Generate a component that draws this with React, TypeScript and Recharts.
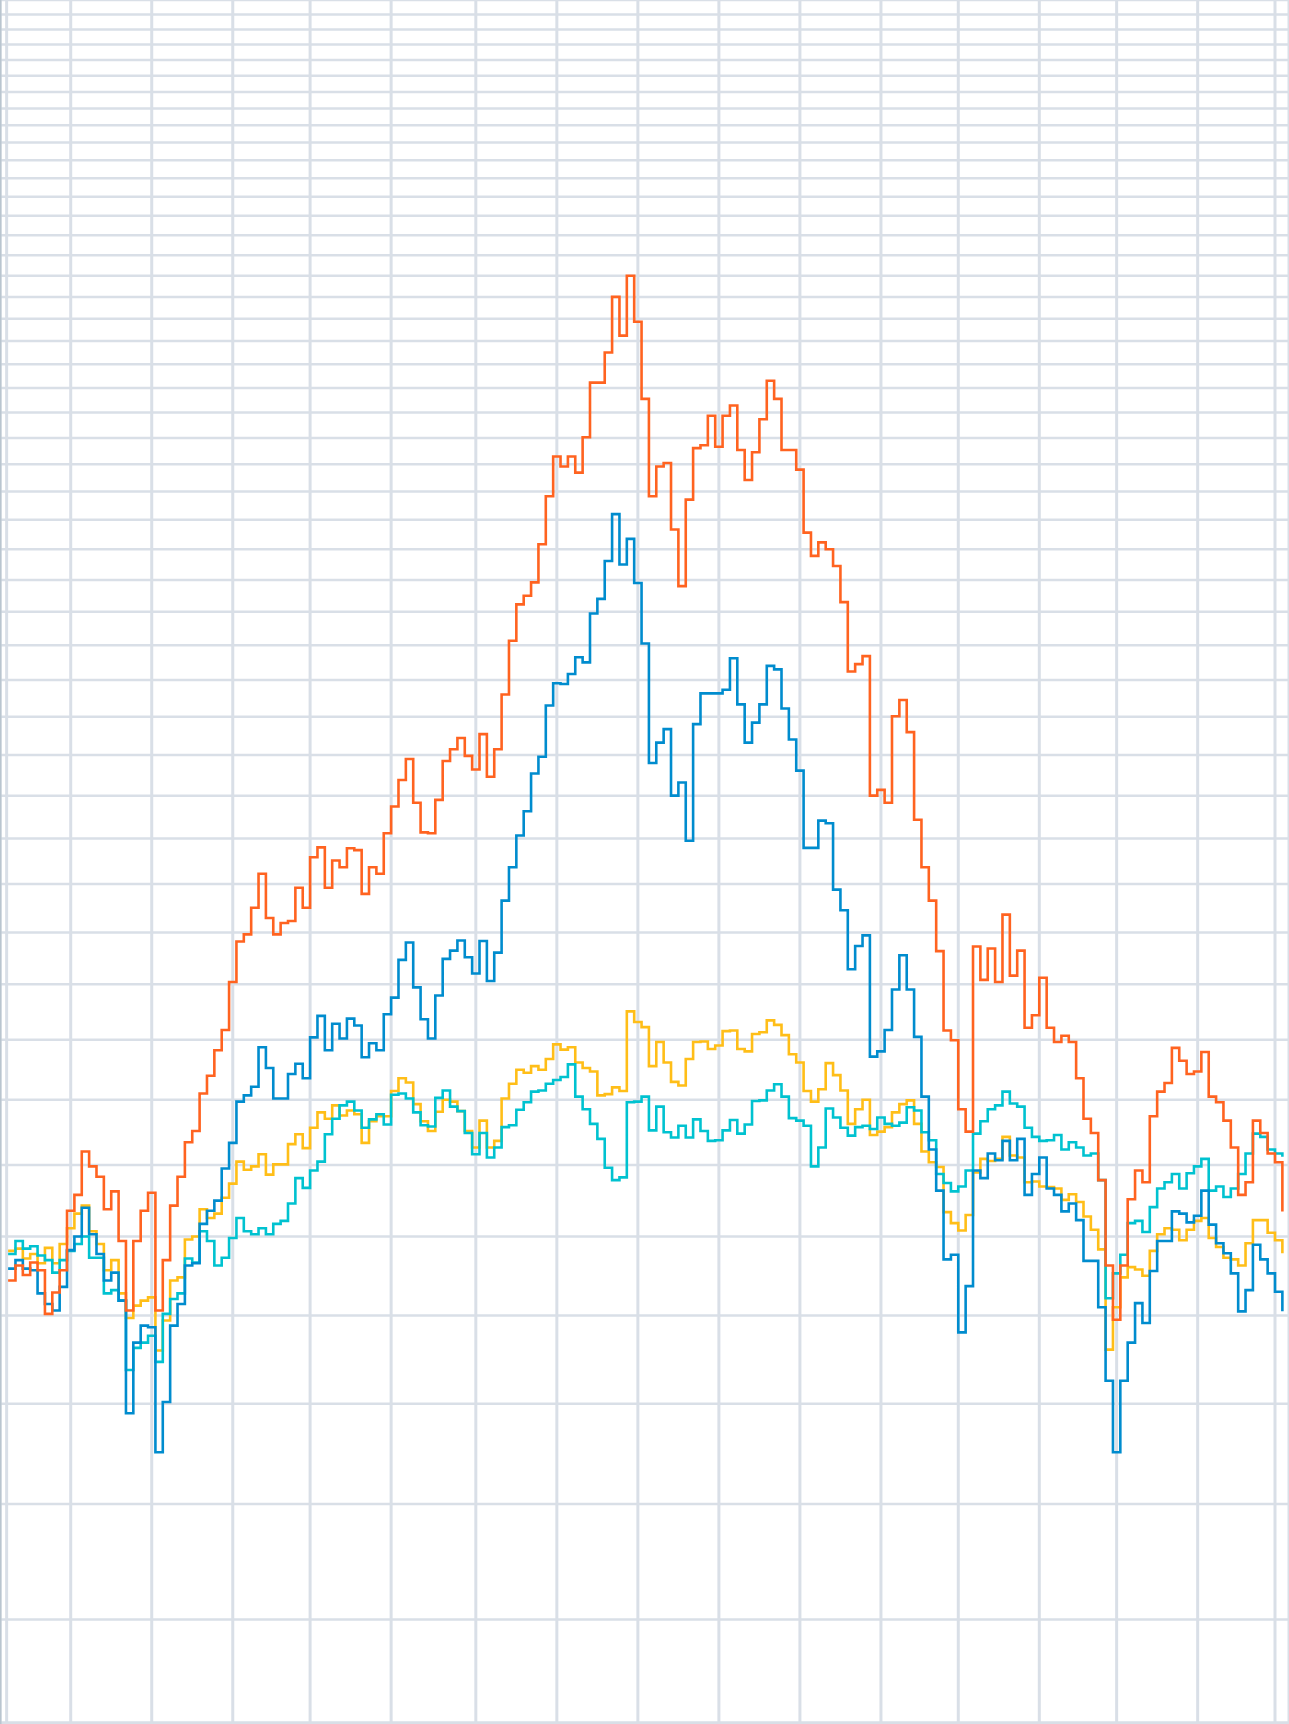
import React from "react";
import { LineChart, Line, XAxis, YAxis, CartesianGrid, ReferenceLine } from "recharts";

// trading-day index of each sample
const days = [
  0, 2, 4, 6, 8, 10, 12, 14, 16, 18,
  20, 22, 24, 26, 28, 30, 32, 34, 36, 38,
  40, 42, 44, 46, 48, 50, 52, 54, 56, 58,
  60, 62, 64, 66, 68, 70, 72, 74, 76, 78,
  80, 82, 84, 86, 88, 90, 92, 94, 96, 98,
  100, 102, 104, 106, 108, 110, 112, 114, 116, 118,
  120, 122, 124, 126, 128, 130, 132, 134, 136, 138,
  140, 142, 144, 146, 148, 150, 152, 154, 156, 158,
  160, 162, 164, 166, 168, 170, 172, 174, 176, 178,
  180, 182, 184, 186, 188, 190, 192, 194, 196, 198,
  200, 202, 204, 206, 208, 210, 212, 214, 216, 218,
  220, 222, 224, 226, 228, 230, 232, 234, 236, 238,
  240, 242, 244, 246, 248, 250, 252, 254, 256, 258,
  260, 262, 264, 266, 268, 270, 272, 274, 276, 278,
  280, 282, 284, 286, 288, 290, 292, 294, 296, 298,
  300, 302, 304, 306, 308, 310, 312, 314, 316, 318,
  320, 322, 324, 326, 328, 330, 332, 334, 336, 338,
  340, 342, 344, 346,
];

const orangeSeries = [
  943, 962, 950, 966, 956, 902, 928, 956, 1035, 1057,
  1120, 1098, 1083, 1037, 1062, 994, 906, 994, 1035, 1060,
  906, 969, 1042, 1083, 1134, 1151, 1210, 1239, 1282, 1317,
  1404, 1482, 1496, 1550, 1622, 1529, 1496, 1519, 1523, 1592,
  1550, 1658, 1680, 1592, 1651, 1636, 1678, 1674, 1579, 1636,
  1622, 1712, 1774, 1838, 1890, 1783, 1714, 1712, 1790, 1885,
  1915, 1944, 1898, 1864, 1954, 1846, 1915, 2060, 2213, 2323,
  2350, 2392, 2517, 2683, 2829, 2792, 2829, 2769, 2903, 3122,
  3122, 3250, 3500, 3324, 3600, 3386, 3055, 2683, 2792, 2805,
  2567, 2380, 2671, 2861, 2872, 2987, 2866, 2987, 3028, 2854,
  2742, 2845, 2973, 3130, 3055, 2854, 2854, 2780, 2556, 2478,
  2523, 2500, 2445, 2330, 2124, 2145, 2168, 1800, 1814, 1783,
  2001, 2045, 1959, 1743, 1636, 1565, 1463, 1316, 1299, 1185,
  1150, 1472, 1408, 1468, 1404, 1536, 1416, 1464, 1321, 1343,
  1412, 1321, 1296, 1307, 1296, 1235, 1170, 1148, 1078, 962,
  895, 962, 1051, 1092, 1075, 1174, 1213, 1227, 1286, 1264,
  1242, 1246, 1279, 1205, 1196, 1167, 1126, 1057, 1075, 1167,
  1148, 1117, 1104, 1034,
];

const blueSeries = [
  958, 969, 958, 956, 927, 914, 906, 935, 982, 1000,
  1039, 1003, 977, 943, 953, 918, 790, 868, 888, 886,
  750, 802, 888, 914, 962, 965, 1017, 1035, 1049, 1095,
  1133, 1197, 1207, 1221, 1287, 1252, 1202, 1202, 1242, 1259,
  1235, 1304, 1342, 1282, 1328, 1302, 1337, 1325, 1270, 1294,
  1282, 1345, 1375, 1446, 1480, 1394, 1336, 1302, 1379, 1448,
  1464, 1484, 1451, 1420, 1483, 1406, 1460, 1565, 1636, 1707,
  1763, 1854, 1896, 2030, 2091, 2089, 2117, 2165, 2150, 2295,
  2340, 2461, 2620, 2450, 2535, 2390, 2205, 1880, 1932, 1967,
  1800, 1832, 1695, 1980, 2063, 2063, 2063, 2073, 2162, 2033,
  1932, 1984, 2033, 2140, 2130, 2022, 1940, 1861, 1679, 1679,
  1741, 1735, 1588, 1545, 1428, 1473, 1494, 1271, 1280, 1317,
  1390, 1455, 1390, 1305, 1205, 1123, 1063, 970, 976, 880,
  936, 1092, 1081, 1117, 1107, 1136, 1107, 1139, 1057, 1087,
  1111, 1066, 1057, 1034, 1045, 1022, 968, 968, 910, 825,
  750, 825, 868, 915, 891, 955, 994, 994, 1034, 1031,
  1019, 1028, 1063, 1016, 991, 978, 952, 905, 931, 989,
  970, 952, 929, 905,
];

const yellowSeries = [
  981, 984, 971, 977, 965, 985, 965, 990, 1011, 1031,
  1042, 1007, 990, 956, 969, 927, 897, 912, 918, 922,
  859, 894, 943, 947, 996, 1000, 1037, 1025, 1031, 1053,
  1073, 1105, 1093, 1098, 1116, 1086, 1101, 1101, 1131, 1146,
  1125, 1156, 1180, 1170, 1191, 1175, 1183, 1177, 1133, 1166,
  1174, 1174, 1214, 1235, 1228, 1193, 1166, 1151, 1181, 1200,
  1197, 1182, 1151, 1126, 1167, 1126, 1136, 1202, 1226, 1249,
  1244, 1255, 1249, 1267, 1292, 1283, 1287, 1261, 1252, 1246,
  1207, 1209, 1220, 1214, 1350, 1331, 1322, 1255, 1296, 1261,
  1229, 1223, 1267, 1296, 1297, 1284, 1290, 1315, 1316, 1284,
  1280, 1310, 1313, 1334, 1326, 1308, 1275, 1261, 1214, 1197,
  1217, 1260, 1240, 1215, 1162, 1185, 1200, 1145, 1150, 1157,
  1180, 1193, 1199, 1162, 1120, 1104, 1097, 1033, 1018, 1008,
  1029, 1089, 1109, 1106, 1109, 1142, 1114, 1111, 1075, 1076,
  1069, 1068, 1066, 1050, 1058, 1047, 1027, 1009, 983, 860,
  910, 947, 960, 957, 949, 981, 1003, 1011, 1009, 995,
  1009, 1021, 1025, 998, 986, 972, 970, 962, 991, 1022,
  1022, 1005, 995, 978,
];

const cyanSeries = [
  977, 994, 984, 987, 975, 969, 953, 969, 981, 990,
  1000, 972, 972, 927, 931, 918, 837, 862, 868, 876,
  846, 902, 920, 927, 971, 966, 1007, 994, 962, 972,
  998, 1025, 1007, 1003, 1011, 1003, 1017, 1021, 1045, 1081,
  1067, 1092, 1105, 1146, 1170, 1191, 1197, 1183, 1156, 1169,
  1177, 1161, 1208, 1210, 1202, 1180, 1160, 1158, 1203, 1215,
  1189, 1182, 1148, 1116, 1148, 1111, 1126, 1157, 1160, 1184,
  1196, 1213, 1215, 1226, 1232, 1237, 1258, 1205, 1185, 1162,
  1139, 1096, 1078, 1082, 1196, 1197, 1205, 1152, 1189, 1149,
  1141, 1159, 1141, 1169, 1151, 1136, 1137, 1152, 1168, 1147,
  1161, 1198, 1199, 1215, 1225, 1205, 1171, 1167, 1159, 1098,
  1126, 1186, 1172, 1156, 1144, 1157, 1159, 1154, 1172, 1162,
  1159, 1164, 1188, 1183, 1149, 1137, 1087, 1074, 1062, 1069,
  1092, 1147, 1166, 1185, 1191, 1213, 1194, 1189, 1156, 1142,
  1136, 1137, 1145, 1123, 1134, 1126, 1114, 1117, 1078, 921,
  952, 976, 1018, 1021, 1006, 1040, 1066, 1075, 1087, 1066,
  1088, 1098, 1109, 1063, 1069, 1054, 1066, 1087, 1117, 1147,
  1142, 1123, 1117, 1112,
];

// month boundaries (trading-day index)
const xTicks = [-0.4, 17, 39, 61, 82, 104, 127, 149, 171, 193, 215, 237, 258, 280, 301, 323, 344];
const xDomain = [-2.2, 347.8];

const yTicks = [
  523, 600, 700, 800, 900, 1000, 1100, 1200, 1300, 1400, 1500, 1600, 1700, 1800, 1900,
  2000, 2100, 2200, 2300, 2400, 2500, 2600, 2700, 2800, 2900, 3000, 3100, 3200, 3300,
  3400, 3500, 3600, 3700, 3800, 3900, 4000, 4100, 4200, 4300, 4400, 4500, 4600, 4700,
  4800, 4900, 5000, 5100, 5200,
];
const yDomain = [522.04, 5200];

const rows = days.map((d, i) => ({
  day: d,
  orange: orangeSeries[i],
  blue: blueSeries[i],
  yellow: yellowSeries[i],
  cyan: cyanSeries[i],
}));

const GRID = "#d9dfe7";
const LINE_W = 2.6;

export default function App() {
  return (
    <div style={{ position: "absolute", left: 0, top: 0, width: 1289, height: 1724, background: "#ffffff" }}>
      <LineChart width={1289} height={1724} data={rows} margin={{ top: 0, right: 0, bottom: 0, left: 0 }}>
        <XAxis
          dataKey="day"
          type="number"
          domain={xDomain}
          ticks={xTicks}
          interval={0}
          allowDataOverflow
          hide
        />
        <YAxis
          type="number"
          scale="log"
          domain={yDomain}
          ticks={yTicks}
          interval={0}
          allowDataOverflow
          hide
        />
        <CartesianGrid vertical={false} stroke={GRID} strokeWidth={2.5} />
        <CartesianGrid horizontal={false} stroke={GRID} strokeWidth={3} />
        <ReferenceLine x={xDomain[0]} stroke="#b9c5cf" strokeWidth={3} />
        <Line type="stepAfter" dataKey="yellow" stroke="#FFBE18" strokeWidth={LINE_W} dot={false} activeDot={false} isAnimationActive={false} />
        <Line type="stepAfter" dataKey="cyan" stroke="#00C2D0" strokeWidth={LINE_W} dot={false} activeDot={false} isAnimationActive={false} />
        <Line type="stepAfter" dataKey="blue" stroke="#008CCE" strokeWidth={LINE_W} dot={false} activeDot={false} isAnimationActive={false} />
        <Line type="stepAfter" dataKey="orange" stroke="#FF6320" strokeWidth={LINE_W} dot={false} activeDot={false} isAnimationActive={false} />
      </LineChart>
    </div>
  );
}
